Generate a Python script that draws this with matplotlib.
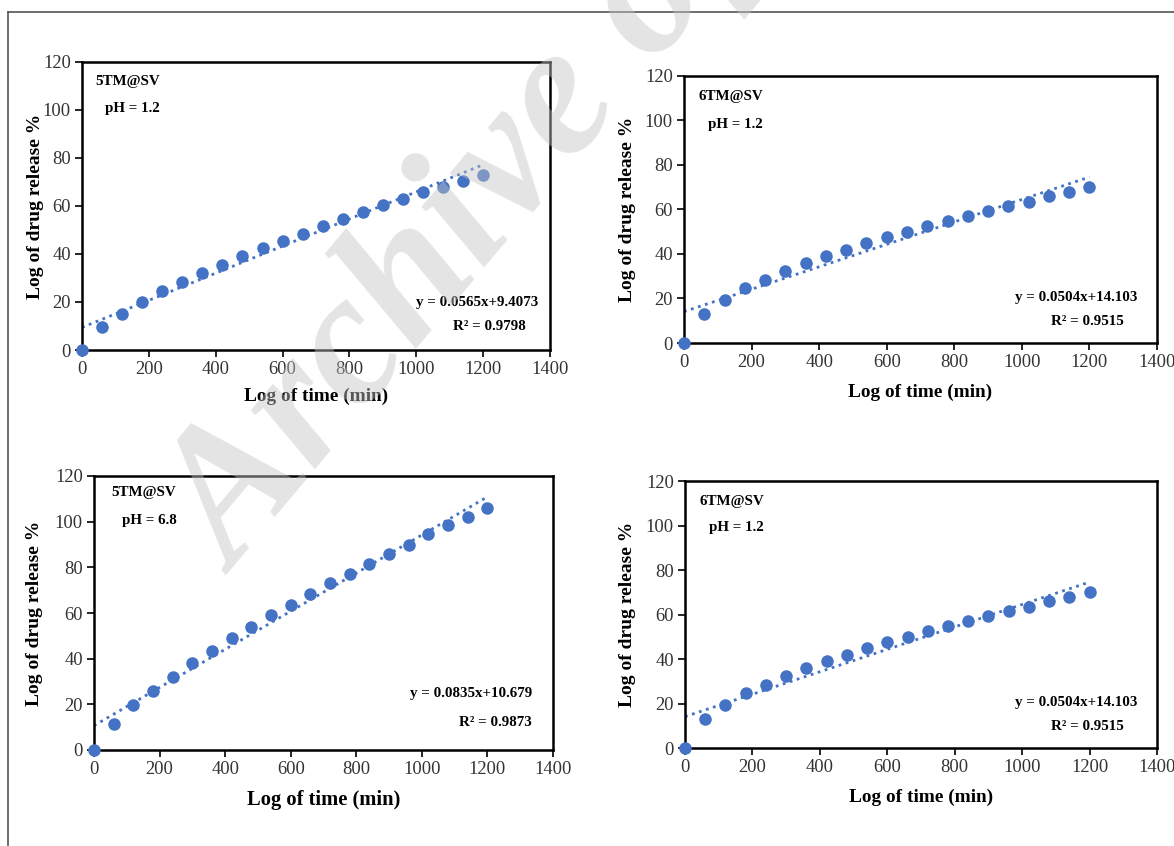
import matplotlib
matplotlib.use("Agg")
import matplotlib.pyplot as plt
from matplotlib.lines import Line2D

plt.rcParams['font.family'] = ['Liberation Serif', 'DejaVu Serif']

W, H = 1174, 846

# time points (min)
time_min = [0, 60, 120, 180, 240, 300, 360, 420, 480, 540, 600,
            660, 720, 780, 840, 900, 960, 1020, 1080, 1140, 1200]

# release values
rel_5tm_ph12 = [0, 9.5, 15, 20, 24.5, 28.5, 32, 35.5, 39, 42.5, 45.5,
                48.5, 51.5, 54.5, 57.5, 60.5, 63, 66, 68, 70.5, 73]
rel_6tm_ph12 = [0, 13, 19.5, 24.5, 28.5, 32.5, 36, 39, 42, 45, 47.5,
                50, 52.5, 55, 57, 59.5, 61.5, 63.5, 66, 68, 70]
rel_5tm_ph68 = [0, 11.5, 19.5, 26, 32, 38, 43.5, 49, 54, 59, 63.5,
                68.5, 73, 77, 81.5, 86, 90, 94.5, 98.5, 102, 106]

# trendline slope / intercept and labels
slopes = [0.0565, 0.0504, 0.0835, 0.0504]
intercepts = [9.4073, 14.103, 10.679, 14.103]
eq_labels = ["y = 0.0565x+9.4073", "y = 0.0504x+14.103",
             "y = 0.0835x+10.679", "y = 0.0504x+14.103"]
r2_labels = ["R² = 0.9798", "R² = 0.9515", "R² = 0.9873", "R² = 0.9515"]
names = ["5TM@SV", "6TM@SV", "5TM@SV", "6TM@SV"]
ph_labels = ["pH = 1.2", "pH = 1.2", "pH = 6.8", "pH = 1.2"]
series = [rel_5tm_ph12, rel_6tm_ph12, rel_5tm_ph68, rel_6tm_ph12]

# axes boxes in pixels: left, top, right, bottom
boxes = [(82, 62, 550, 350), (684, 76, 1157, 343),
         (94, 476, 553, 750), (685, 481, 1157, 748)]
# label offsets in pixels (y label left of axes, x label below axes)
ylab_off = [46, 57, 60, 58]
xlab_off = [46, 49, 50, 49]
xlab_size = [13.9, 13.9, 14.8, 13.9]
# text positions in axes fractions
name_pos = [(0.028, 0.934), (0.03, 0.925), (0.037, 0.938), (0.03, 0.925)]
ph_pos = [(0.049, 0.837), (0.051, 0.82), (0.061, 0.836), (0.051, 0.824)]
eq_pos = [(0.974, 0.166), (0.958, 0.172), (0.954, 0.208), (0.958, 0.172)]
r2_pos = [(0.949, 0.080), (0.93, 0.079), (0.954, 0.102), (0.93, 0.079)]

blue = '#4472C4'

fig = plt.figure(figsize=(W / 100, H / 100), dpi=100)

# page border (left and top edge)
fig.add_artist(Line2D([8 / W, 8 / W], [0, 1 - 12 / H], color='#555555', lw=1.2))
fig.add_artist(Line2D([8 / W, 1], [1 - 12 / H, 1 - 12 / H], color='#555555', lw=1.2))

for i in range(4):
    l, t, r, b = boxes[i]
    ax = fig.add_axes([l / W, 1 - b / H, (r - l) / W, (b - t) / H])
    ax.plot(time_min, series[i], 'o', color=blue, markersize=8, zorder=3,
            clip_on=False)
    fit = [slopes[i] * x + intercepts[i] for x in [0, 1200]]
    ax.plot([0, 1200], fit, ':', color=blue, lw=2, zorder=2)
    ax.set_xlim(0, 1400)
    ax.set_ylim(0, 120)
    ax.set_xticks(range(0, 1401, 200))
    ax.set_yticks(range(0, 121, 20))
    for s in ax.spines.values():
        s.set_linewidth(1.8)
        s.set_color('black')
    ax.tick_params(direction='out', length=5, width=1.2, labelsize=13.3,
                   colors='black', labelcolor='#333333', pad=3)
    ax.set_xlabel("Log of time (min)", fontsize=xlab_size[i], fontweight='bold')
    ax.set_ylabel("Log of drug release %", fontsize=14, fontweight='bold')
    ax.yaxis.set_label_coords(-ylab_off[i] / (r - l), 0.5)
    ax.xaxis.set_label_coords(0.5, -xlab_off[i] / (b - t))
    ax.xaxis.label.set_va('center')
    ax.yaxis.label.set_va('center')
    ax.text(*name_pos[i], names[i], transform=ax.transAxes, fontsize=10.8,
            fontweight='bold', ha='left', va='center')
    ax.text(*ph_pos[i], ph_labels[i], transform=ax.transAxes, fontsize=10.8,
            fontweight='bold', ha='left', va='center')
    ax.text(*eq_pos[i], eq_labels[i], transform=ax.transAxes, fontsize=10.8,
            fontweight='bold', ha='right', va='center')
    ax.text(*r2_pos[i], r2_labels[i], transform=ax.transAxes, fontsize=10.8,
            fontweight='bold', ha='right', va='center')

# watermark
fig.text(236 / W, 1 - 575 / H, "Archive of SID", fontsize=136,
         fontstyle='italic', fontweight='bold', color='#c4c4c4', alpha=0.45,
         rotation=50, ha='left', va='baseline', rotation_mode='anchor',
         zorder=10)

fig.savefig("out.png", dpi=100)
